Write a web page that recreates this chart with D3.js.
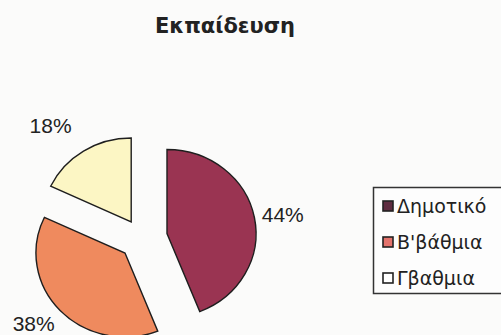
<!DOCTYPE html>
<html>
<head>
<meta charset="utf-8">
<script src="https://cdn.jsdelivr.net/npm/d3@7"></script>
<style>
  html, body { margin: 0; padding: 0; background: #fbfbfa; }
  svg { display: block; }
  text { font-family: "Liberation Sans", Arial, sans-serif; fill: #222; }
</style>
</head>
<body>
<svg id="chart" width="501" height="335"></svg>
<script>
// Education level shares
const title = "Εκπαίδευση";
const categories = ["Δημοτικό", "Β'βάθμια", "Γβαθμια"];
const shares = [44, 38, 18];
const sliceColors = ["#9a3452", "#ef8a5e", "#fcf6c4"];
const swatchColors = ["#5e2c40", "#e4736d", "#ffffff"];

const svg = d3.select("#chart");
const W = 501, H = 335;

svg.append("rect").attr("width", W).attr("height", H).attr("fill", "#fbfbfa");

svg.append("text")
  .attr("x", 225).attr("y", 33)
  .attr("text-anchor", "middle")
  .style("font-family", "'DejaVu Sans', sans-serif")
  .attr("font-size", 21).attr("font-weight", "bold")
  .text(title);

// Exploded pie, slightly wider than tall
const cx = 142, cy = 238, r = 84, sx = 1.06;
const explode = [24, 22, 19];
const labelDist = [115, 113, 124];   // label anchor distance from pie centre

const pie = d3.pie().sort(null).value(d => d).startAngle(0).endAngle(2 * Math.PI);
const arcs = pie(shares);
const arc = d3.arc().innerRadius(0).outerRadius(r);

const g = svg.append("g").attr("transform", `translate(${cx},${cy}) scale(${sx},1)`);

const mid = a => (a.startAngle + a.endAngle) / 2;

g.selectAll("path.slice")
  .data(arcs)
  .join("path")
  .attr("class", "slice")
  .attr("transform", (a, i) => {
    const m = mid(a);
    return `translate(${explode[i] * Math.sin(m)},${-explode[i] * Math.cos(m)})`;
  })
  .attr("d", arc)
  .attr("fill", (a, i) => sliceColors[i])
  .attr("stroke", "#1e1e1e")
  .attr("stroke-width", 1.4)
  .attr("stroke-linejoin", "miter")
  .attr("vector-effect", "non-scaling-stroke");

// Percentage labels just outside each slice
arcs.forEach((a, i) => {
  const m = mid(a);
  const dx = Math.sin(m), dy = -Math.cos(m);
  const px = cx + sx * labelDist[i] * dx;
  const py = cy + labelDist[i] * dy;
  svg.append("text")
    .attr("x", px)
    .attr("y", py)
    .attr("text-anchor", dx > 0.3 ? "start" : (dx < -0.3 ? "end" : "middle"))
    .attr("dominant-baseline", dy > 0.3 ? "hanging" : (dy < -0.3 ? "auto" : "middle"))
    .attr("font-size", 21)
    .text(d3.format(".0f")(a.data) + "%");
});

// Legend
const lg = svg.append("g");
lg.append("rect")
  .attr("x", 373.5).attr("y", 187.5)
  .attr("width", 140).attr("height", 106)
  .attr("fill", "#fdfdfd")
  .attr("stroke", "#333").attr("stroke-width", 1.5);

const ly = d3.scalePoint().domain(categories).range([206, 278]);
categories.forEach((c, i) => {
  lg.append("rect")
    .attr("x", 383).attr("y", ly(c) - 5)
    .attr("width", 10).attr("height", 10)
    .attr("fill", swatchColors[i])
    .attr("stroke", "#222").attr("stroke-width", 1.6);
  lg.append("text")
    .attr("x", 397).attr("y", ly(c))
    .attr("dominant-baseline", "central")
    .style("font-family", "'DejaVu Sans', sans-serif")
    .attr("font-size", 19)
    .text(c);
});
</script>
</body>
</html>
